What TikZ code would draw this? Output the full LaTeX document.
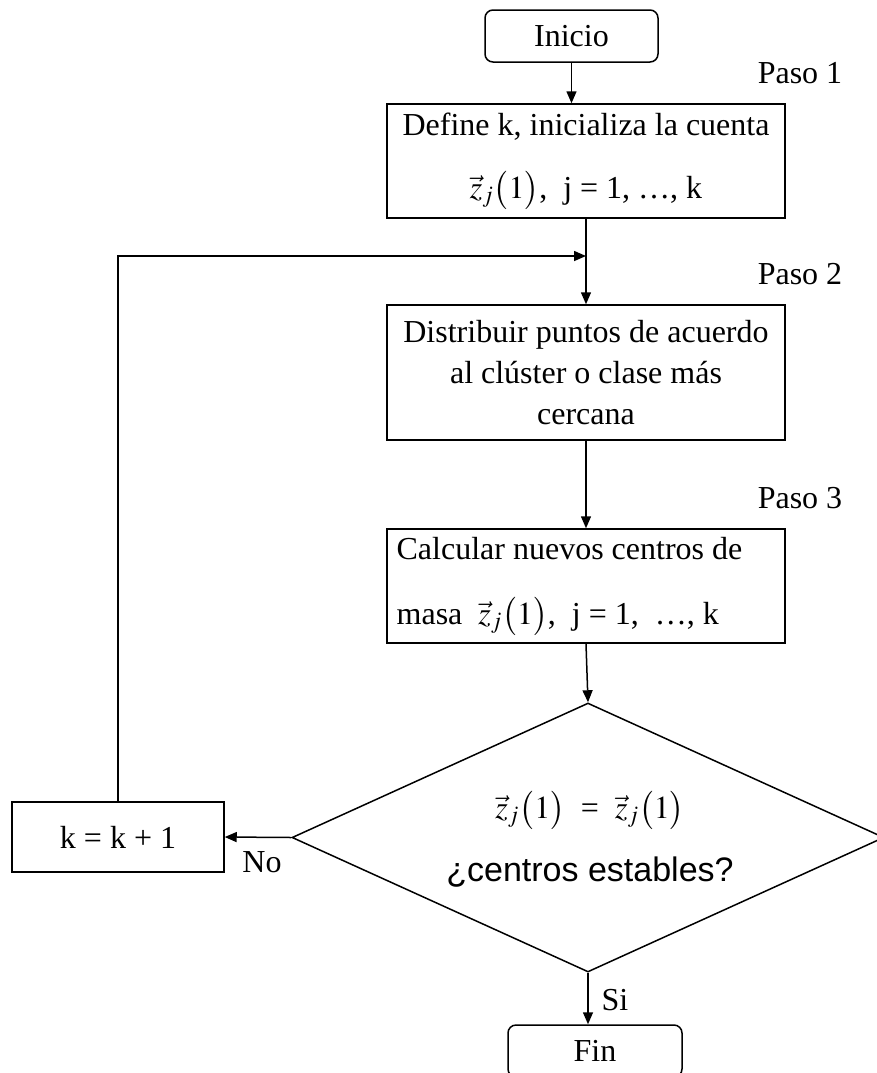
\documentclass[tikz,border=0pt]{standalone}
\usepackage{amsmath}
\usepackage{mathptmx}
\usepackage{fontspec}
\setmainfont{Liberation Serif}[Kerning=Off]
\newfontfamily\arialfont{Liberation Sans}
\usetikzlibrary{arrows.meta,shapes.geometric}

\begin{document}
\begin{tikzpicture}[x=0.5pt, y=-0.5pt,
        every node/.style={font=\fontsize{16}{20.5}\selectfont},
        flow/.style={-{Triangle[length=6pt,width=5pt]}, line width=0.75pt},
        stepbox/.style={draw, line width=0.75pt, minimum width=199pt, inner sep=0pt, align=center},
        endbox/.style={draw, line width=0.75pt, rounded corners=4pt, minimum width=86.5pt, minimum height=26pt, inner sep=0pt}]
        \def\zvec{$\vec{z}_j\bigl(1\bigr)$}
        \useasboundingbox (0,0) rectangle (877,1073);

        \node[endbox] (inicio) at (571.5,36) {Inicio};
        \node (paso1) at (800,73) {Paso 1};
        \node[stepbox, minimum height=57pt] (define) at (586,161)
            {Define k, inicializa la cuenta\\[11pt] \zvec,\ \ j = 1, …, k};

        \coordinate (union) at (586,256);
        \node (paso2) at (800,274) {Paso 2};
        \node[stepbox, minimum height=67.5pt] (reparte) at (586,372.5)
            {Distribuir puntos de acuerdo\\al clúster o clase más\\cercana};

        \node (paso3) at (800,498) {Paso 3};
        \node[stepbox, minimum height=57pt] (centros) at (586,586) {};
        \node[anchor=west, align=left, inner sep=0pt] (centrostxt) at ([xshift=5pt]centros.west)
            {Calcular nuevos centros de\\[12pt] masa\ \ \zvec,\ \ j = 1,\ \ …, k};

        % rombo de decision
        \node[draw, diamond, line width=0.75pt, aspect=2.2, minimum width=296pt, minimum height=134.5pt, inner sep=0pt] (prueba) at (588,837.5) {};
        \node (igual) at (590,810) {\zvec\ \ =\ \ \zvec};
        \node[font=\arialfont\fontsize{17}{20}\selectfont] (estables) at (590,872) {¿centros estables?};

        \node[stepbox, minimum width=106pt, minimum height=35pt] (incr) at (118,837) {k = k + 1};
        \node (no) at (262,862) {No};
        \node[endbox, minimum width=87pt] (fin) at (595,1051) {Fin};
        \node (si) at (615,1000) {Si};

        \draw[flow] (inicio) -- (inicio |- define.north);
        \draw[flow] (define) -- (reparte);
        \draw[flow] (incr.north) |- (union);
        \draw[flow] (reparte) -- (centros);
        \draw[flow] (centros.south) -- (prueba.north);
        \draw[flow] (prueba.west) -- (incr.east);
        \draw[flow] (prueba.south) -- (prueba.south |- fin.north);
    \end{tikzpicture}
\end{document}
